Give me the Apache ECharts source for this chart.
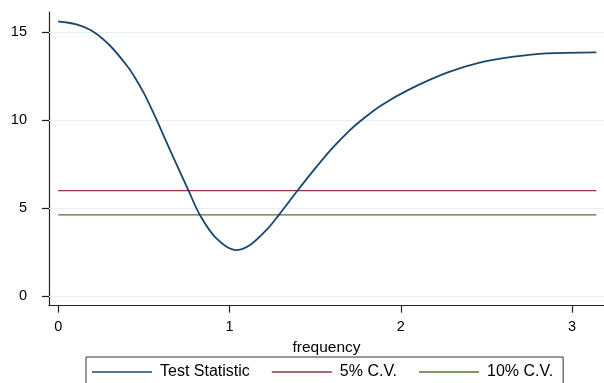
<!DOCTYPE html>
<html>
<head>
<meta charset="utf-8">
<script src="https://cdn.jsdelivr.net/npm/echarts@6/dist/echarts.min.js"></script>
<style>
  html, body { margin: 0; padding: 0; background: #fff; }
  #chart { width: 604px; height: 383px; }
</style>
</head>
<body>
<div id="chart"></div>
<script>
// Test statistic across frequencies, with 5% and 10% critical values
const frequency = [0, 0.1, 0.2, 0.3, 0.4, 0.45, 0.5, 0.535, 0.574, 0.66, 0.76, 0.827, 0.92, 1.035, 1.12, 1.22, 1.287, 1.396, 1.5, 1.6, 1.7, 1.771, 1.88, 2.05, 2.27, 2.46, 2.66, 2.85, 3.1416];
const testStatistic = [15.6, 15.45, 15.05, 14.25, 13.1, 12.38, 11.53, 10.84, 10.02, 8.13, 6.0, 4.6, 3.3, 2.61, 2.9, 3.8, 4.6, 5.98, 7.25, 8.4, 9.4, 10.0, 10.8, 11.74, 12.69, 13.26, 13.6, 13.79, 13.85];
const cv5 = 5.99;
const cv10 = 4.61;
const cvRange = [0, 3.1416];
const xTicks = [0, 1, 2, 3];
const yTicks = [0, 5, 10, 15];

const font = 'Liberation Sans, Arial, sans-serif';
const pairs = (xs, ys) => xs.map((x, i) => [x, ys[i]]);
const flat = (v) => cvRange.map(x => [x, v]);

const chart = echarts.init(document.getElementById('chart'), null, { renderer: 'canvas' });
chart.setOption({
  backgroundColor: '#ffffff',
  animation: false,
  textStyle: { fontFamily: font },
  grid: { left: 49, right: 0, top: 12, bottom: 77.3, containLabel: false },
  xAxis: {
    type: 'value',
    min: -0.054,
    max: 3.186,
    name: 'frequency',
    nameLocation: 'middle',
    nameGap: 30,
    nameTextStyle: { fontSize: 15.5, color: '#000', fontFamily: font },
    axisLine: { show: true, onZero: false, lineStyle: { color: '#222', width: 1.2 } },
    axisTick: { show: true, customValues: xTicks, length: 7, lineStyle: { color: '#222', width: 1.2 } },
    axisLabel: { customValues: xTicks, margin: 14, fontSize: 14.5, color: '#000', fontFamily: font },
    splitLine: { show: false }
  },
  yAxis: {
    type: 'value',
    min: -0.55,
    max: 16.14,
    axisLine: { show: true, onZero: false, lineStyle: { color: '#222', width: 1.2 } },
    axisTick: { show: true, customValues: yTicks, length: 7, lineStyle: { color: '#222', width: 1.2 } },
    axisLabel: { customValues: yTicks, margin: 22, fontSize: 14.5, color: '#000', fontFamily: font, padding: [10, 0, 0, 0] },
    splitLine: { show: false }
  },
  legend: {
    left: 86,
    top: 357,
    padding: [7, 10, 8, 6],
    itemGap: 22,
    itemWidth: 60,
    itemHeight: 1.6,
    icon: 'rect',
    borderColor: '#333',
    borderWidth: 1,
    borderRadius: 0,
    textStyle: { fontSize: 16, color: '#000', fontFamily: font, padding: [0, 0, 0, 3] },
    data: ['Test Statistic', '5% C.V.', '10% C.V.']
  },
  series: [
    {
      name: 'grid',
      type: 'line',
      data: [],
      silent: true,
      markLine: {
        silent: true,
        symbol: 'none',
        label: { show: false },
        lineStyle: { color: '#e6eff2', width: 1, type: 'solid' },
        data: yTicks.map(v => ({ yAxis: v }))
      }
    },
    {
      name: 'Test Statistic',
      type: 'line',
      data: pairs(frequency, testStatistic),
      smooth: 0.3,
      showSymbol: false,
      symbol: 'none',
      lineStyle: { color: '#1a476f', width: 1.8 },
      itemStyle: { color: '#1a476f' },
      z: 5
    },
    {
      name: '5% C.V.',
      type: 'line',
      data: flat(cv5),
      showSymbol: false,
      symbol: 'none',
      lineStyle: { color: '#90353b', width: 1.3 },
      itemStyle: { color: '#90353b' },
      z: 4
    },
    {
      name: '10% C.V.',
      type: 'line',
      data: flat(cv10),
      showSymbol: false,
      symbol: 'none',
      lineStyle: { color: '#55752f', width: 1.3 },
      itemStyle: { color: '#55752f' },
      z: 4
    }
  ]
});
</script>
</body>
</html>
